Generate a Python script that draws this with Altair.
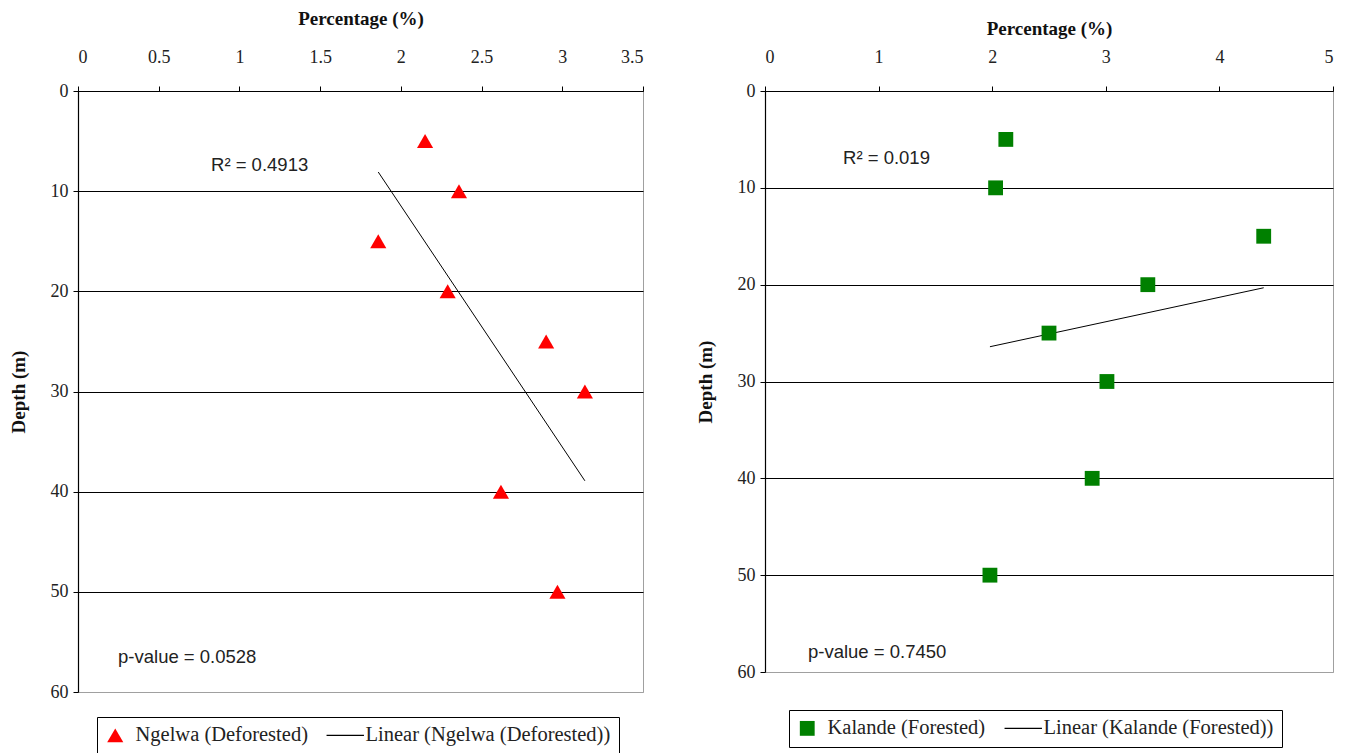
import altair as alt
import pandas as pd
import numpy as np

# ---- data ----
depth = [5, 10, 15, 20, 25, 30, 40, 50]
ngelwa_pct = [2.15, 2.36, 1.86, 2.29, 2.90, 3.14, 2.62, 2.97]
kalande_pct = [2.12, 2.03, 4.39, 3.37, 2.50, 3.01, 2.88, 1.98]

ngelwa_name = "Ngelwa (Deforested)"
ngelwa_fit = "Linear (Ngelwa (Deforested))"
kalande_name = "Kalande (Forested)"
kalande_fit = "Linear (Kalande (Forested))"

left_ticks = [0, 0.5, 1, 1.5, 2, 2.5, 3, 3.5]
right_ticks = [0, 1, 2, 3, 4, 5]
depth_ticks = [0, 10, 20, 30, 40, 50, 60]

left_r2 = "R\u00b2 = 0.4913"
left_p = "p-value = 0.0528"
right_r2 = "R\u00b2 = 0.019"
right_p = "p-value = 0.7450"

SERIF = "Liberation Serif"
SANS = "Liberation Sans"


def trend(pct):
    b, a = np.polyfit(pct, depth, 1)
    xs = [min(pct), max(pct)]
    return pd.DataFrame({"pct": xs, "depth": [a + b * x for x in xs]})


def panel(pct, name, fit_name, shape, color, ticks, width, height,
          r2_text, r2_pos, p_text, p_pos, leg_x, leg_y, title_pad, sym_size):
    df = pd.DataFrame({"pct": pct, "depth": depth, "series": name})
    fit = trend(pct)
    notes = pd.DataFrame({
        "pct": [r2_pos[0], p_pos[0]],
        "depth": [r2_pos[1], p_pos[1]],
        "txt": [r2_text, p_text],
    })
    xs = alt.Scale(domain=[ticks[0], ticks[-1]], nice=False, zero=True)
    ys = alt.Scale(domain=[0, 60], reverse=True, nice=False)
    xaxis = alt.Axis(orient="top", values=ticks, format="~g", title="Percentage (%)", grid=False,
                     titlePadding=title_pad, labelPadding=20)
    yaxis = alt.Axis(values=depth_ticks, format="~g", title="Depth (m)", grid=True,
                     gridColor={"condition": {"test": "datum.value === 60", "value": "#a0a0a0"},
                                "value": "black"},
                     labelPadding=5, titlePadding=22)
    cscale = alt.Scale(domain=[name, fit_name], range=[color, "black"])
    sscale = alt.Scale(domain=[name, fit_name], range=[shape, "stroke"])
    legend = alt.Legend(
        title=None, orient="none", legendX=leg_x, legendY=leg_y, direction="horizontal",
        labelLimit=500,
        symbolSize=alt.ExprRef(f"datum.value === '{fit_name}' ? 1400 : {sym_size}"),
        symbolStrokeWidth=alt.ExprRef(f"datum.value === '{fit_name}' ? 1.2 : 0"),
    )
    pts = alt.Chart(df).mark_point(filled=True, size=sym_size, opacity=1, strokeWidth=0).encode(
        x=alt.X("pct:Q", scale=xs, axis=xaxis),
        y=alt.Y("depth:Q", scale=ys, axis=yaxis),
        fill=alt.Fill("series:N", scale=cscale, legend=legend),
        stroke=alt.Stroke("series:N", scale=cscale, legend=legend),
        shape=alt.Shape("series:N", scale=sscale, legend=legend),
    )
    line = alt.Chart(fit).mark_line(color="black", strokeWidth=1).encode(
        x=alt.X("pct:Q", scale=xs), y=alt.Y("depth:Q", scale=ys))
    txt = alt.Chart(notes).mark_text(align="left", baseline="middle", font=SANS,
                                     fontSize=18.5, color="#222").encode(
        x=alt.X("pct:Q", scale=xs), y=alt.Y("depth:Q", scale=ys), text="txt:N")
    return alt.layer(line, pts, txt).properties(width=width, height=height)


left = panel(ngelwa_pct, ngelwa_name, ngelwa_fit, "triangle-up", "#ff0000", left_ticks,
             565, 601, left_r2, (0.824, 7.4), left_p, (0.248, 56.5), 19, 626, 20, 260)
right = panel(kalande_pct, kalande_name, kalande_fit, "square", "#008000", right_ticks,
              568, 581, right_r2, (0.687, 6.9), right_p, (0.378, 57.9), 24, 619, 10, 220)

chart = alt.hconcat(left, right, spacing=122, bounds="flush").resolve_scale(
    fill="independent", stroke="independent", shape="independent", x="independent", y="independent"
).properties(padding=0).configure_view(stroke="#a0a0a0", strokeWidth=1).configure_axis(
    domainColor="black", tickColor="black", tickSize=5, labelFont=SERIF, labelFontSize=18,
    labelColor="#222", titleFont=SERIF, titleFontSize=19, titleFontWeight="bold", titleColor="#111",
    gridWidth=1.2, domainWidth=1.2,
).configure_legend(
    labelFont=SERIF, labelFontSize=20.5, labelColor="#222", strokeColor="black", fillColor="white",
    padding=8, columnPadding=16, labelOffset=10,
)

chart.save("out.html", embed_options={"renderer": "svg", "actions": False})
